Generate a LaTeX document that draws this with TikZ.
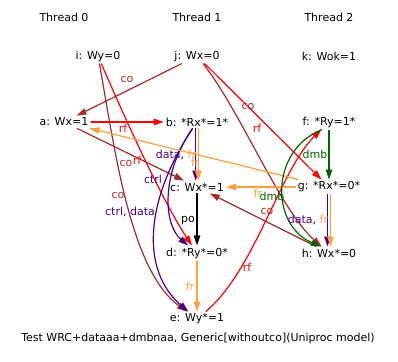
\documentclass[tikz,border=0pt]{standalone}
\usepackage{fontspec}
\setmainfont{DejaVu Sans}
\usepackage{tikz}
\usetikzlibrary{arrows.meta,calc}

\definecolor{cobrown}{HTML}{A52A2A}
\definecolor{rfred}{HTML}{FF0000}
\definecolor{frorange}{HTML}{FFA040}
\definecolor{depviolet}{HTML}{4B0082}
\definecolor{dmbgreen}{HTML}{006400}

\begin{document}
\begin{tikzpicture}[x=1pt,y=-1pt,
		every node/.style={font=\fontsize{11}{13}\selectfont},
		ev/.style={inner sep=2pt},
		lbl/.style={inner sep=0pt},
		rel/.style={line width=1.2pt,-{Triangle[length=10pt,width=6.5pt]}},
		co/.style={rel,draw=cobrown},
		rf/.style={rel,draw=rfred},
		fr/.style={rel,draw=frorange},
		dep/.style={rel,draw=depviolet},
		dmb/.style={rel,draw=dmbgreen},
		po/.style={rel,draw=black}]
		\useasboundingbox (0,0) rectangle (398,361);
		
		\node (t0) at (64,17) {Thread 0};
		\node (t1) at (197,17) {Thread 1};
		\node (t2) at (329,17) {Thread 2};
		
		\node[ev] (i) at (98,56) {i: Wy=0};
		\node[ev] (j) at (197,56) {j: Wx=0};
		\node[ev] (k) at (329,56) {k: Wok=1};
		\node[ev] (a) at (64,122) {a: Wx=1};
		\node[ev] (b) at (197,122) {b: *Rx*=1*};
		\node[ev] (f) at (329,122) {f: *Ry=1*};
		\node[ev] (c) at (197,187) {c: Wx*=1};
		\node[ev] (g) at (329,187) {g: *Rx*=0*};
		\node[ev] (d) at (197,253) {d: *Ry*=0*};
		\node[ev] (h) at (329,253) {h: Wx*=0};
		\node[ev] (e) at (197,319) {e: Wy*=1};
		
		\node (cap) at (198,338) {Test WRC+dataaa+dmbnaa, Generic[withoutco](Uniproc model)};
		
		\draw[co] (j) -- (a) node[lbl,text=cobrown] (l1) at (127,79) {co};
		\draw[co] (a) -- (c) node[lbl,text=cobrown] (l2) at (126,163) {co};
		\draw[co] (i) .. controls (115,150) and (130,270) .. (e) node[lbl,text=cobrown] (l3) at (118,195) {co};
		\draw[co] (j) .. controls (240,110) and (280,210) .. (h) node[lbl,text=cobrown] (l4) at (248,106) {co};
		\draw[co] (h) -- (c) node[lbl,text=cobrown] (l5) at (267,211) {co};
		
		\draw[rf] (a) -- (b) node[lbl,text=rfred] (l6) at (123,128) {rf};
		\draw[rf] (i) .. controls (130,130) and (165,205) .. (d) node[lbl,text=rfred] (l7) at (137,160) {rf};
		\draw[rf] (j) -- (g) node[lbl,text=rfred] (l8) at (257,128) {rf};
		\draw[rf] (e) .. controls (255,270) and (280,170) .. (f) node[lbl,text=rfred] (l9) at (247,267) {rf};
		
		\draw[dep] ([xshift=-1.3]b.south) -- ([xshift=-1.3]c.north);
		\draw[fr] ([xshift=1.3]b.south) -- ([xshift=1.3]c.north) node[lbl] (l10) at (176,155) {\textcolor{depviolet}{data}, \textcolor{frorange}{fr}};
		\draw[dep] (b) .. controls (160,175) and (164,225) .. (d) node[lbl,text=depviolet] (l11) at (153,179) {ctrl};
		\draw[dep] (b) .. controls (145,200) and (140,270) .. (e) node[lbl] (l12) at (130,212) {\textcolor{depviolet}{ctrl}, \textcolor{depviolet}{data}};
		
		\draw[po] (c) -- (d) node[lbl] (l13) at (188,221) {po};
		\draw[fr] (d) -- (e) node[lbl,text=frorange] (l14) at (190,286) {fr};
		\draw[fr] (g) -- (a) node[lbl,text=frorange] (l15) at (195,162) {fr};
		\draw[fr] (g) -- (c) node[lbl,text=frorange] (l16) at (258,193) {fr};
		
		\draw[dmb] (f) -- (g) node[lbl,text=dmbgreen] (l17) at (315,154) {dmb};
		\draw[dmb] ([xshift=-7]f.south) .. controls (270,150) and (270,225) .. ([xshift=-8]h.north) node[lbl,text=dmbgreen] (l18) at (272,196) {dmb};
		
		\draw[dep] ([xshift=-1.5]g.south) -- ([xshift=-1.5]h.north);
		\draw[fr] ([xshift=1.5]g.south) -- ([xshift=1.5]h.north) node[lbl] (l19) at (308,220) {\textcolor{depviolet}{data}, \textcolor{frorange}{fr}};
	\end{tikzpicture}
\end{document}
